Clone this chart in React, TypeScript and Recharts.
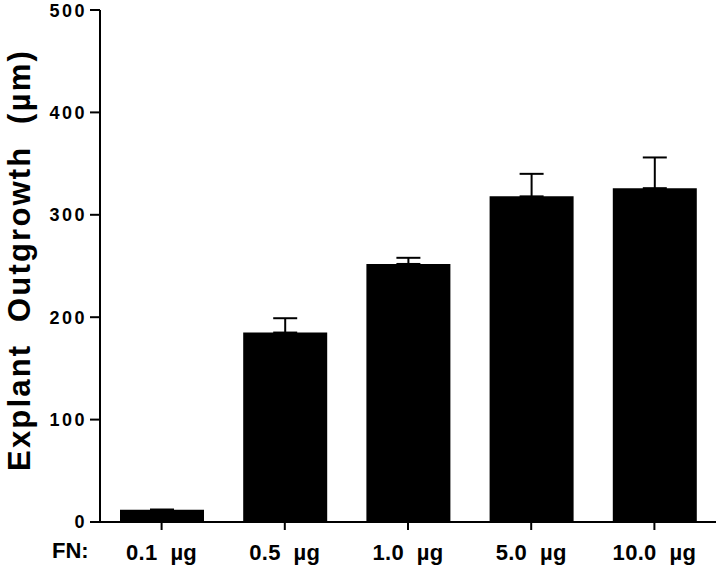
import React from 'react';
import { BarChart, Bar, XAxis, YAxis, ErrorBar } from 'recharts';

// FN amounts, mean explant outgrowth (µm) and upper SEM
const doses = ['0.1\u00a0\u00a0µg', '0.5\u00a0\u00a0µg', '1.0\u00a0\u00a0µg', '5.0\u00a0\u00a0µg', '10.0\u00a0\u00a0µg'];
const outgrowth = [12, 185, 252, 318, 326];
const sem = [0, 14, 6, 22, 30];
const yTicks = [0, 100, 200, 300, 400, 500];

const data = doses.map((dose, i) => ({
  dose,
  outgrowth: outgrowth[i],
  err: [0, sem[i]],
}));

const font = '"Liberation Sans", Arial, Helvetica, sans-serif';

export default function App() {
  return (
    <div style={{ position: 'absolute', left: 0, top: 0, background: '#fff' }}>
      <BarChart
        width={720}
        height={568}
        data={data}
        margin={{ top: 10, right: 4, left: 0, bottom: 0 }}
        barSize={84}
      >
        <XAxis
          dataKey="dose"
          height={46}
          axisLine={{ stroke: '#000', strokeWidth: 2 }}
          tickLine={{ stroke: '#000', strokeWidth: 2 }}
          tickSize={8}
          tickMargin={14}
          tick={{ fill: '#000', fontSize: 22, fontWeight: 'bold', fontFamily: font, style: { letterSpacing: 0.3 } }}
          interval={0}
          label={{
            value: 'FN:',
            position: 'insideBottomLeft',
            offset: 10,
            dx: -58,
            fill: '#000',
            fontSize: 22,
            fontWeight: 'bold',
            fontFamily: font,
          }}
        />
        <YAxis
          width={100}
          domain={[0, 500]}
          ticks={yTicks}
          axisLine={{ stroke: '#000', strokeWidth: 2 }}
          tickLine={{ stroke: '#000', strokeWidth: 2 }}
          tickSize={10}
          tickMargin={3}
          tick={{ fill: '#000', fontSize: 18, fontWeight: 'bold', fontFamily: font, style: { letterSpacing: 2.5 } }}
          label={{
            value: 'Explant\u00a0\u00a0Outgrowth\u00a0\u00a0(µm)',
            angle: -90,
            position: 'center',
            dx: -31,
            dy: -6,
            fill: '#000',
            fontSize: 31,
            fontWeight: 'bold',
            fontFamily: font,
            style: { letterSpacing: 2.2 },
          }}
        />
        <Bar dataKey="outgrowth" fill="#000" isAnimationActive={false}>
          <ErrorBar dataKey="err" direction="y" width={12} stroke="#000" strokeWidth={2} />
        </Bar>
      </BarChart>
    </div>
  );
}
